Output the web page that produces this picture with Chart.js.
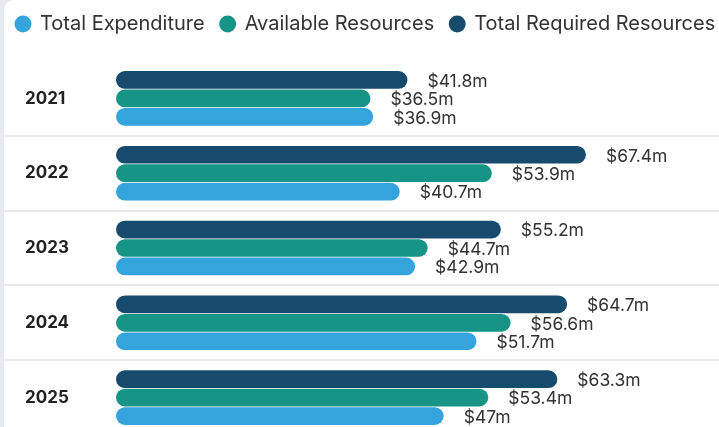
<!DOCTYPE html>
<html>
<head>
<meta charset="utf-8">
<script src="https://cdn.jsdelivr.net/npm/chart.js@4"></script>
<style>
  html, body { margin: 0; padding: 0; overflow: hidden; background: #e8e9ed; }
  #card { position: absolute; left: 4px; top: 0; width: 760px; height: 460px; background: #fff; border-top-left-radius: 10px; }
  #chart { position: absolute; left: 0; top: 0; }
</style>
</head>
<body>
<div id="card"></div>
<canvas id="chart" width="740" height="435"></canvas>
<script>
const years = ["2021", "2022", "2023", "2024", "2025"];
const requiredResources = [41.8, 67.4, 55.2, 64.7, 63.3];
const availableResources = [36.5, 53.9, 44.7, 56.6, 53.4];
const totalExpenditure = [36.9, 40.7, 42.9, 51.7, 47];

Chart.defaults.font.family = "Inter, 'Noto Sans', sans-serif";
Chart.defaults.color = "#333";

// value labels to the right of each bar
const valueLabels = {
    id: "valueLabels",
    afterDatasetsDraw(chart) {
        const ctx = chart.ctx;
        ctx.save();
        ctx.font = "17.5px Inter, 'Noto Sans', sans-serif";
        ctx.fillStyle = "#333";
        ctx.textAlign = "left";
        ctx.textBaseline = "middle";
        chart.data.datasets.forEach((ds, i) => {
            chart.getDatasetMeta(i).data.forEach((bar, j) => {
                ctx.fillText("$" + ds.data[j] + "m", bar.x + 20, bar.y + 1.5);
            });
        });
        ctx.restore();
    }
};

// extra space under the legend
const legendGap = {
    id: "legendGap",
    beforeInit(chart) {
        const fit = chart.legend.fit;
        chart.legend.fit = function () {
            fit.bind(chart.legend)();
            this.height += 17;
        };
    }
};

new Chart(document.getElementById("chart"), {
    type: "bar",
    data: {
        labels: years,
        datasets: [
            {
                label: "Total Required Resources",
                data: requiredResources,
                backgroundColor: "#174b6e"
            },
            {
                label: "Available Resources",
                data: availableResources,
                backgroundColor: "#169486"
            },
            {
                label: "Total Expenditure",
                data: totalExpenditure,
                backgroundColor: "#35a4dc"
            }
        ]
    },
    options: {
        indexAxis: "y",
        responsive: false,
        animation: false,
        categoryPercentage: 0.74,
        barPercentage: 0.96,
        borderRadius: 10,
        borderSkipped: false,
        layout: { padding: { top: -2, left: 0, right: 0, bottom: 0 } },
        scales: {
            x: {
                display: false,
                min: 0,
                max: 89.5
            },
            y: {
                afterFit: (scale) => { scale.width = 116; },
                border: { display: false },
                grid: {
                    color: (c) => c.index === 0 ? "transparent" : "#e9eaed",
                    lineWidth: 2,
                    tickLength: 112
                },
                ticks: {
                    mirror: true,
                    padding: -91,
                    color: "#222",
                    font: { size: 17, weight: "bold" }
                }
            }
        },
        plugins: {
            legend: {
                align: "start",
                reverse: true,
                labels: {
                    usePointStyle: true,
                    pointStyle: "circle",
                    boxWidth: 14,
                    boxHeight: 12,
                    padding: 16,
                    color: "#333",
                    font: { size: 20 }
                }
            },
            tooltip: { enabled: false }
        }
    },
    plugins: [valueLabels, legendGap]
});
</script>
</body>
</html>
